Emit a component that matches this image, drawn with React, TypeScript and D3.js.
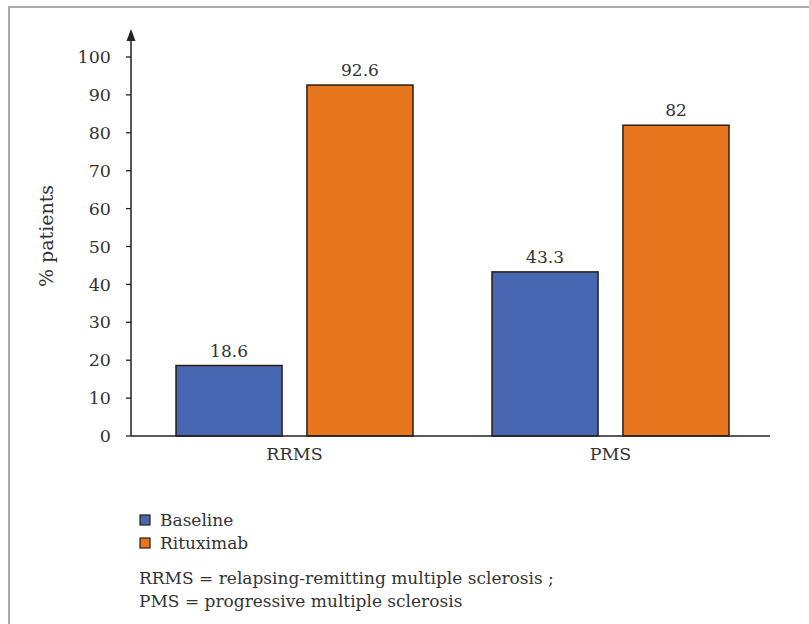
import React from "react";
import * as d3 from "d3";

// Share of patients per MS subtype, before and after rituximab
const categories = ["RRMS", "PMS"];
const seriesNames = ["Baseline", "Rituximab"];
const baselineValues = [18.6, 43.3];
const rituximabValues = [92.6, 82];
const valueLabels = [["18.6", "92.6"], ["43.3", "82"]];
const yTicks = [0, 10, 20, 30, 40, 50, 60, 70, 80, 90, 100];
const footnotes = [
  "RRMS = relapsing-remitting multiple sclerosis ;",
  "PMS = progressive multiple sclerosis",
];

const W = 809;
const H = 624;
const FONT = "'DejaVu Serif', serif";
const TEXT = "#333333";
const COLORS = ["#4767b2", "#e8761e"];
const STROKE = "#2b1d14";

export default function App() {
  const axisX = 131;
  const axisEnd = 770;
  const y = d3.scaleLinear().domain([0, 100]).range([436, 57]);
  const x0 = d3.scaleBand<string>().domain(categories).range([176, 729]).paddingInner(0.25).paddingOuter(0);
  const x1 = d3.scaleBand<string>().domain(seriesNames).range([0, x0.bandwidth()]).paddingInner(0.19).paddingOuter(0);
  const series = [baselineValues, rituximabValues];

  return (
    <svg
      width={W}
      height={H}
      style={{ position: "absolute", left: 0, top: 0, background: "#fff" }}
      fontFamily={FONT}
    >
      {/* frame */}
      <path d={`M9,${H} V7 H${W}`} fill="none" stroke="#aaaaaa" strokeWidth={2} />

      {/* bars */}
      {categories.map((c, ci) =>
        seriesNames.map((s, si) => {
          const v = series[si][ci];
          const bx = (x0(c) ?? 0) + (x1(s) ?? 0);
          const bw = x1.bandwidth();
          return (
            <g key={c + s}>
              <rect
                x={bx}
                y={y(v)}
                width={bw}
                height={y(0) - y(v)}
                fill={COLORS[si]}
                stroke={STROKE}
                strokeWidth={1.5}
              />
              <text
                x={bx + bw / 2}
                y={y(v) - 9}
                textAnchor="middle"
                fontSize={17}
                fill={TEXT}
              >
                {valueLabels[ci][si]}
              </text>
            </g>
          );
        })
      )}

      {/* y axis with arrow */}
      <line x1={axisX} x2={axisX} y1={y(0)} y2={38} stroke="#222" strokeWidth={1.5} />
      <path d={`M${axisX - 4.5},41 L${axisX},29 L${axisX + 4.5},41 Z`} fill="#222" />
      {yTicks.map((t) => (
        <g key={t}>
          <line x1={axisX - 5} x2={axisX} y1={y(t)} y2={y(t)} stroke="#222" strokeWidth={1.3} />
          <text x={axisX - 20} y={y(t)} dy="0.35em" textAnchor="end" fontSize={17.5} fill={TEXT}>
            {t}
          </text>
        </g>
      ))}
      <text
        transform={`translate(53,236) rotate(-90)`}
        textAnchor="middle"
        fontSize={19}
        fill={TEXT}
      >
        % patients
      </text>

      {/* x axis */}
      <line x1={axisX} x2={axisEnd} y1={y(0)} y2={y(0)} stroke="#222" strokeWidth={1.5} />
      {categories.map((c) => (
        <text
          key={c}
          x={(x0(c) ?? 0) + x0.bandwidth() / 2}
          y={460}
          textAnchor="middle"
          fontSize={17.5}
          fill={TEXT}
        >
          {c}
        </text>
      ))}

      {/* legend */}
      {seriesNames.map((s, i) => (
        <g key={s} transform={`translate(140,${515 + i * 23})`}>
          <rect x={0} y={0} width={10} height={10} fill={COLORS[i]} stroke={STROKE} strokeWidth={1.2} />
          <text x={20} y={10.5} fontSize={17} fill={TEXT}>
            {s}
          </text>
        </g>
      ))}

      {/* abbreviations */}
      {footnotes.map((f, i) => (
        <text key={f} x={139} y={584 + i * 23} fontSize={17} fill={TEXT}>
          {f}
        </text>
      ))}
    </svg>
  );
}
